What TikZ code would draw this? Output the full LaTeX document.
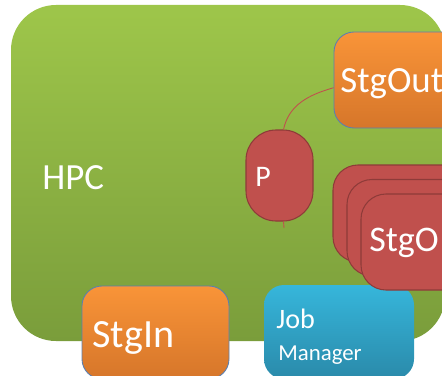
\documentclass[tikz,border=0pt]{standalone}
\usepackage{fontspec}
\setmainfont{Carlito}
\usetikzlibrary{fit}
\definecolor{xanhT}{HTML}{9EC64A}
\definecolor{xanhB}{HTML}{7A9D3B}
\definecolor{camT}{HTML}{F99438}
\definecolor{camB}{HTML}{D6762A}
\definecolor{doP}{HTML}{C0504D}
\definecolor{doV}{HTML}{8E3B39}
\definecolor{lamT}{HTML}{36B6DB}
\definecolor{lamB}{HTML}{2A8AAA}
\definecolor{vien}{HTML}{5B7FB0}
\tikzset{
  khung/.style={inner sep=0pt,rounded corners=0.4cm},
  cambox/.style={khung,top color=camT,bottom color=camB,draw=vien,line width=0.5pt},
  dobox/.style={khung,fill=doP,draw=doV,line width=0.6pt},
  chu/.style={anchor=base west,inner sep=0pt,text=white},
}
\begin{document}
\begin{tikzpicture}[x=0.02cm,y=-0.02cm]
\useasboundingbox (0,0) rectangle (442,375);
\clip (0,0) rectangle (442,375);
% khối HPC
\node[khung,rounded corners=0.9cm,top color=xanhT,bottom color=xanhB,fit={(11,5) (445,341)}] (hpc) {};
\node[chu,font=\fontsize{21}{24}\selectfont] (hpcT) at (42,189) {HPC};
% các khối bên trong
\node[cambox,fit={(334,32) (480,128)}] (stgout) {};
\node[chu,font=\fontsize{21}{24}\selectfont] (stgoutT) at (340,92) {StgOut};
\node[dobox,rounded corners=0.6cm,fit={(246,130) (313,221)}] (P) {};
\node[chu,font=\fontsize{17}{20}\selectfont] (PT) at (255,186) {P};
\draw[doP,line width=0.5pt] (P.85) to[out=78,in=196] (stgout.186);
\coordinate (duoi) at (284,228);
\draw[doP,line width=0.5pt] (P.275)--(duoi);
\node[khung,top color=lamT,bottom color=lamB,fit={(264,285) (414,379)}] (job) {};
\node[chu,font=\fontsize{16}{19}\selectfont] (jobT) at (276,328) {Job};
\node[chu,font=\fontsize{13}{15}\selectfont] (jobM) at (278,360) {Manager};
\foreach \i in {0,1,2}
  \node[dobox,rounded corners=0.5cm,fit={(333+14*\i,165+14.5*\i) (480,262+14*\i)}] (stgo\i) {};
\node[chu,font=\fontsize{20.5}{24}\selectfont] (stgoT) at (369,251) {StgO};
\node[cambox,fit={(82,286) (229,379)}] (stgin) {};
\node[chu,font=\fontsize{22.8}{26}\selectfont] (stginT) at (92,347) {StgIn};
\end{tikzpicture}
\end{document}
